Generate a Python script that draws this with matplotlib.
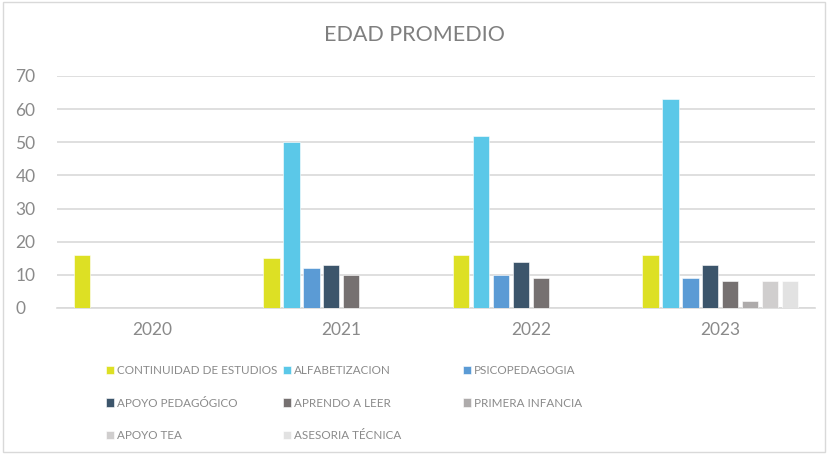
import numpy as np
import matplotlib.pyplot as plt
from matplotlib.patches import Rectangle

years = ["2020", "2021", "2022", "2023"]
series = [
    "CONTINUIDAD DE ESTUDIOS",
    "ALFABETIZACION",
    "PSICOPEDAGOGIA",
    "APOYO PEDAGÓGICO",
    "APRENDO A LEER",
    "PRIMERA INFANCIA",
    "APOYO TEA",
    "ASESORIA TÉCNICA",
]
continuidad = [16, 15, 16, 16]
alfabetizacion = [0, 50, 52, 63]
psicopedagogia = [0, 12, 10, 9]
apoyo_pedagogico = [0, 13, 14, 13]
aprendo_leer = [0, 10, 9, 8]
primera_infancia = [0, 0, 0, 2]
apoyo_tea = [0, 0, 0, 8]
asesoria = [0, 0, 0, 8]
values = [continuidad, alfabetizacion, psicopedagogia, apoyo_pedagogico,
          aprendo_leer, primera_infancia, apoyo_tea, asesoria]
colors = ["#DDE024", "#5BC8E8", "#5B9BD5", "#3C556B",
          "#767171", "#AEABAB", "#D0CECE", "#E2E2E2"]

plt.rcParams["font.family"] = ["Lato", "DejaVu Sans"]
txt = "#8A8A8A"

fig = plt.figure(figsize=(8.28, 4.57), dpi=100)
fig.patches.append(Rectangle((0.004, 0.01), 0.992, 0.985, transform=fig.transFigure,
                             fill=False, edgecolor="#D9D9D9", lw=1))
ax = fig.add_axes([57 / 828, 1 - 308 / 457, (815 - 57) / 828, (308 - 76) / 457])

x = np.arange(len(years))
slot = 0.105
bars = []
for i, (vals, col) in enumerate(zip(values, colors)):
    b = ax.bar(x + (i - 3.5) * slot, vals, width=slot * 0.82, color=col,
               edgecolor="white", linewidth=0.4, zorder=3, label=series[i])
    bars.append(b)

ax.set_xlim(-0.5, 3.5)
ax.set_ylim(0, 70)
ax.set_yticks(range(0, 71, 10))
ax.set_xticks(x)
ax.set_xticklabels(years)
ax.yaxis.grid(True, color="#D9D9D9", lw=1.2, zorder=0)
for s in ["top", "right", "left"]:
    ax.spines[s].set_visible(False)
ax.spines["bottom"].set_color("#D9D9D9")
ax.spines["bottom"].set_linewidth(1.2)
ax.tick_params(length=0, colors=txt, labelsize=12.5)
ax.tick_params(axis="x", pad=10)
ax.tick_params(axis="y", pad=30)
for lab in ax.get_yticklabels():
    lab.set_horizontalalignment("left")

fig.text(0.5, 1 - 35 / 457, "EDAD PROMEDIO", ha="center", va="center",
         fontsize=15.5, color="#7F7F7F")

# legend in three columns, placed like the original
cols = [[0, 3, 6], [1, 4, 7], [2, 5]]
xs = [106, 283, 463]
for c, x0 in zip(cols, xs):
    leg = fig.legend([bars[i] for i in c], [series[i] for i in c],
                     loc="upper left", bbox_to_anchor=(x0 / 828, 1 - 365 / 457),
                     frameon=False, fontsize=8.4, handlelength=0.7, handleheight=0.7,
                     handletextpad=0.25, labelspacing=1.85, borderpad=0,
                     borderaxespad=0)
    for t in leg.get_texts():
        t.set_color(txt)

fig.savefig("out.png", dpi=100)
